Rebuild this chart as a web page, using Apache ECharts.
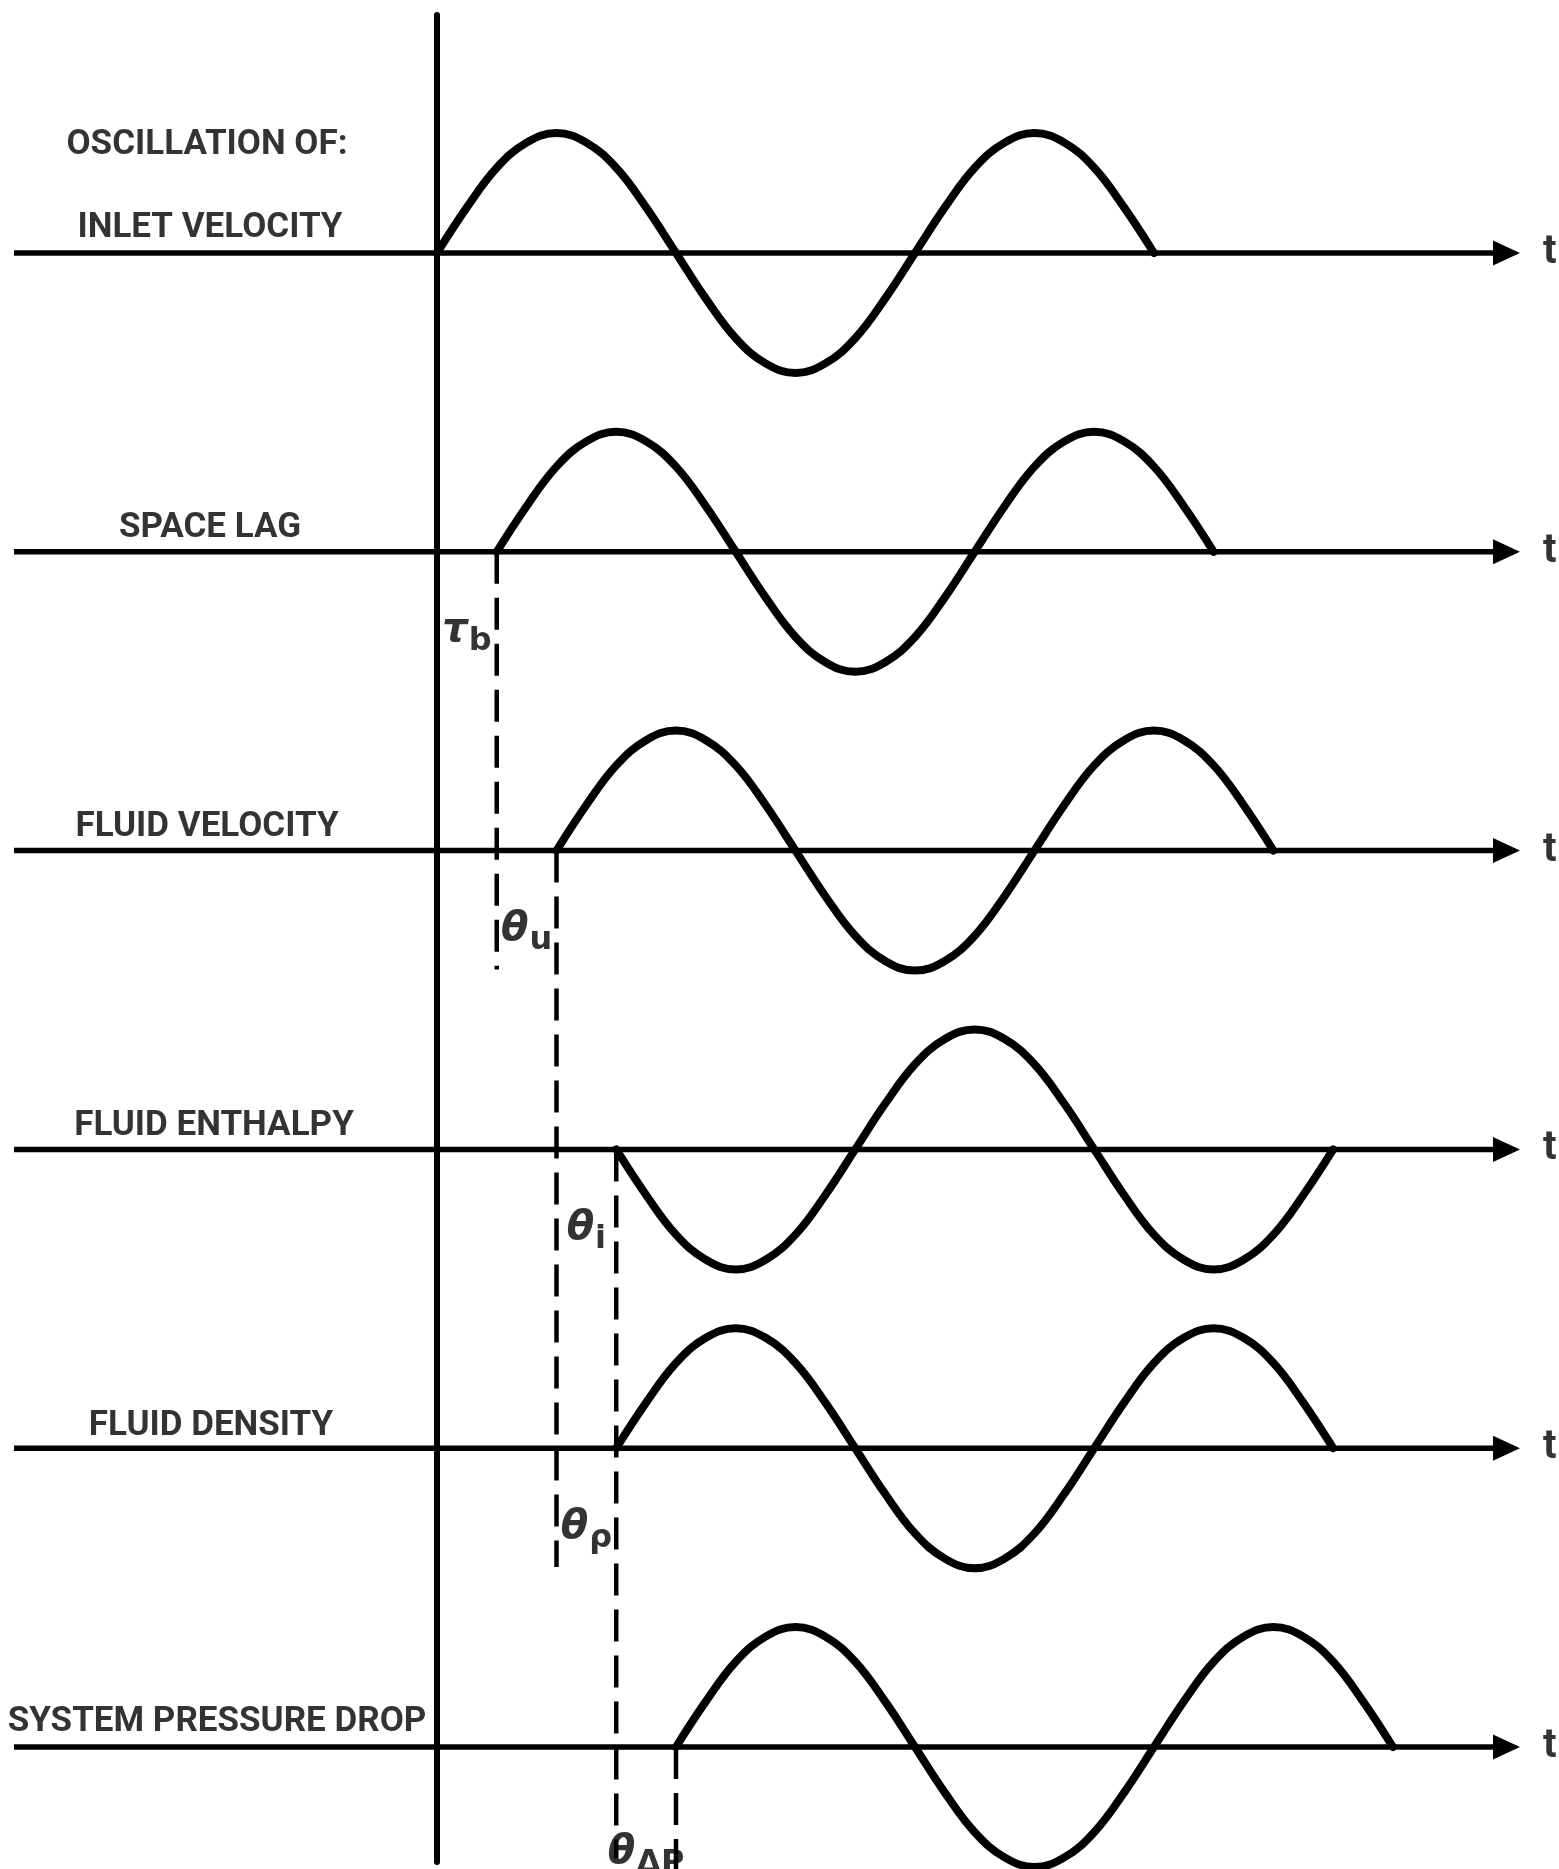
<!DOCTYPE html>
<html>
<head>
<meta charset="utf-8">
<script src="https://cdn.jsdelivr.net/npm/echarts@6/dist/echarts.min.js"></script>
<style>
  html, body { margin: 0; padding: 0; background: #ffffff; }
  #chart { width: 1559px; height: 1869px; }
</style>
</head>
<body>
<div id="chart"></div>
<script>
// ---- data (x in degrees of phase, y in amplitude units) ----
const traceNames = ['INLET VELOCITY', 'SPACE LAG', 'FLUID VELOCITY', 'FLUID ENTHALPY', 'FLUID DENSITY', 'SYSTEM PRESSURE DROP'];
const headerText = 'OSCILLATION OF:';

const inletX    = [0, 22.5, 45, 67.5, 90, 112.5, 135, 157.5, 180, 202.5, 225, 247.5, 270, 292.5, 315, 337.5, 360, 382.5, 405, 427.5, 450, 472.5, 495, 517.5, 540];
const inletY    = [0, 0.38, 0.71, 0.92, 1.0, 0.92, 0.71, 0.38, 0, -0.38, -0.71, -0.92, -1.0, -0.92, -0.71, -0.38, 0, 0.38, 0.71, 0.92, 1.0, 0.92, 0.71, 0.38, 0];
const spaceLagX = [45, 67.5, 90, 112.5, 135, 157.5, 180, 202.5, 225, 247.5, 270, 292.5, 315, 337.5, 360, 382.5, 405, 427.5, 450, 472.5, 495, 517.5, 540, 562.5, 585];
const spaceLagY = [0, 0.38, 0.71, 0.92, 1.0, 0.92, 0.71, 0.38, 0, -0.38, -0.71, -0.92, -1.0, -0.92, -0.71, -0.38, 0, 0.38, 0.71, 0.92, 1.0, 0.92, 0.71, 0.38, 0];
const fluidVelX = [90, 112.5, 135, 157.5, 180, 202.5, 225, 247.5, 270, 292.5, 315, 337.5, 360, 382.5, 405, 427.5, 450, 472.5, 495, 517.5, 540, 562.5, 585, 607.5, 630];
const fluidVelY = [0, 0.38, 0.71, 0.92, 1.0, 0.92, 0.71, 0.38, 0, -0.38, -0.71, -0.92, -1.0, -0.92, -0.71, -0.38, 0, 0.38, 0.71, 0.92, 1.0, 0.92, 0.71, 0.38, 0];
const enthalpyX = [135, 157.5, 180, 202.5, 225, 247.5, 270, 292.5, 315, 337.5, 360, 382.5, 405, 427.5, 450, 472.5, 495, 517.5, 540, 562.5, 585, 607.5, 630, 652.5, 675];
const enthalpyY = [0, -0.38, -0.71, -0.92, -1.0, -0.92, -0.71, -0.38, 0, 0.38, 0.71, 0.92, 1.0, 0.92, 0.71, 0.38, 0, -0.38, -0.71, -0.92, -1.0, -0.92, -0.71, -0.38, 0];
const densityX  = [135, 157.5, 180, 202.5, 225, 247.5, 270, 292.5, 315, 337.5, 360, 382.5, 405, 427.5, 450, 472.5, 495, 517.5, 540, 562.5, 585, 607.5, 630, 652.5, 675];
const densityY  = [0, 0.38, 0.71, 0.92, 1.0, 0.92, 0.71, 0.38, 0, -0.38, -0.71, -0.92, -1.0, -0.92, -0.71, -0.38, 0, 0.38, 0.71, 0.92, 1.0, 0.92, 0.71, 0.38, 0];
const pressureX = [180, 202.5, 225, 247.5, 270, 292.5, 315, 337.5, 360, 382.5, 405, 427.5, 450, 472.5, 495, 517.5, 540, 562.5, 585, 607.5, 630, 652.5, 675, 697.5, 720];
const pressureY = [0, 0.38, 0.71, 0.92, 1.0, 0.92, 0.71, 0.38, 0, -0.38, -0.71, -0.92, -1.0, -0.92, -0.71, -0.38, 0, 0.38, 0.71, 0.92, 1.0, 0.92, 0.71, 0.38, 0];

// delay markers: x of dashed line (deg), trace it starts on, trace level it ends near
const lagX        = [45, 90, 135, 180];
const lagFrom     = [1, 2, 3, 5];
const lagTo       = [2, 4, 5, 5];
const lagLabels   = ['{g|τ}{s|b}', '{g|θ}{s|u}', '{g|θ}{s|i}', '{g|θ}{s|ρ}', '{g|θ}{s|ΔP}'];
const lagLabelX   = [22.5, 67.5, 112.5, 112.5, 157.5];
const lagLabelRow = [1, 2, 3, 4, 5];
const axisLetter  = 't';

// ---- layout ----
const PX_PER_DEG = 1.3277, X0 = 437, W = 1559, H = 1869;
const PX_PER_UNIT = 120, Y0 = 253, ROW_GAP = 2.49;
const xMin = -X0 / PX_PER_DEG, xMax = (W - X0) / PX_PER_DEG;
const yMax = Y0 / PX_PER_UNIT, yMin = (Y0 - H) / PX_PER_UNIT;
const pxToDeg = p => (p - X0) / PX_PER_DEG;
const pxToUnit = p => (Y0 - p) / PX_PER_UNIT;
const base = k => -k * ROW_GAP;

const curvesX = [inletX, spaceLagX, fluidVelX, enthalpyX, densityX, pressureX];
const curvesY = [inletY, spaceLagY, fluidVelY, enthalpyY, densityY, pressureY];
const labelCenterPx = [210, 210, 207, 214, 211, 217];
const labelOffset = [-25, -24, -23, -23, -22, -25];

const series = [];
const arrowPath = 'path://M0,0 L10,5 L0,10 Z';

// horizontal time axes with arrowheads
for (let k = 0; k < 6; k++) {
  series.push({
    type: 'line', silent: true, animation: false, z: 2,
    lineStyle: { color: '#000', width: 5.5 },
    data: [
      { value: [pxToDeg(14), base(k)], symbol: 'none' },
      { value: [pxToDeg(1506.5), base(k)], symbol: arrowPath, symbolSize: [27, 25], symbolKeepAspect: false,
        itemStyle: { color: '#000' } }
    ]
  });
}
// vertical time origin
series.push({
  type: 'line', silent: true, animation: false, symbol: 'none',
  lineStyle: { color: '#000', width: 6, cap: 'round' },
  data: [[0, pxToUnit(15)], [0, pxToUnit(1862)]]
});
// oscillation curves
for (let k = 0; k < 6; k++) {
  series.push({
    type: 'line', silent: true, animation: false, symbol: 'none', smooth: 0.4, z: 3,
    lineStyle: { color: '#000', width: 8, cap: 'round', join: 'round' },
    data: curvesX[k].map((x, i) => [x, base(k) + curvesY[k][i]])
  });
}
// dashed delay lines
const lagEnd = [base(2) - 0.99, base(4) - 0.99, base(5) - 0.93, pxToUnit(1869)];
for (let j = 0; j < lagX.length; j++) {
  series.push({
    type: 'line', silent: true, animation: false, symbol: 'none',
    lineStyle: { color: '#000', width: 4.5, type: [32, 14] },
    data: [[lagX[j], base(lagFrom[j])], [lagX[j], lagEnd[j]]]
  });
}
// trace names
const nameData = traceNames.map((n, k) => ({
  name: n, value: [pxToDeg(labelCenterPx[k]), base(k)],
  label: { offset: [0, labelOffset[k]] }
}));
nameData.push({ name: headerText, value: [pxToDeg(207), base(0)], label: { offset: [0, -108] } });
series.push({
  type: 'scatter', silent: true, animation: false, symbolSize: 0,
  label: {
    show: true, position: 'inside', formatter: p => p.name,
    color: '#000', fontFamily: 'Roboto', fontWeight: 'bold', fontSize: 35,
    align: 'center', verticalAlign: 'middle'
  },
  data: nameData
});
// "t" letters at arrow tips
series.push({
  type: 'scatter', silent: true, animation: false, symbolSize: 0,
  label: {
    show: true, position: 'inside', formatter: axisLetter,
    color: '#000', fontFamily: 'Roboto', fontWeight: 'bold', fontSize: 40,
    align: 'left', verticalAlign: 'middle', offset: [0, 0]
  },
  data: [0, 1, 2, 3, 4, 5].map(k => [pxToDeg(1543), base(k)])
});
// delay symbols
series.push({
  type: 'scatter', silent: true, animation: false, symbolSize: 0,
  label: {
    show: true, position: 'inside', formatter: p => p.name,
    align: 'center', verticalAlign: 'middle',
    rich: {
      g: { fontFamily: 'DejaVu Sans', fontStyle: 'italic', fontWeight: 'bold', fontSize: 40, color: '#000' },
      s: { fontFamily: 'DejaVu Sans', fontWeight: 'bold', fontSize: 32, color: '#000', padding: [22, 0, 0, 1] }
    }
  },
  data: lagLabels.map((t, j) => ({
    name: t, value: [lagLabelX[j], base(lagLabelRow[j])],
    label: { offset: [0, j === 4 ? 106 : 79] }
  }))
});

const chart = echarts.init(document.getElementById('chart'), null, { renderer: 'canvas' });
chart.setOption({
  backgroundColor: '#ffffff',
  animation: false,
  grid: { left: 0, top: 0, width: W, height: H, containLabel: false },
  xAxis: { type: 'value', min: xMin, max: xMax, show: false },
  yAxis: { type: 'value', min: yMin, max: yMax, show: false },
  series: series
});
</script>
</body>
</html>
